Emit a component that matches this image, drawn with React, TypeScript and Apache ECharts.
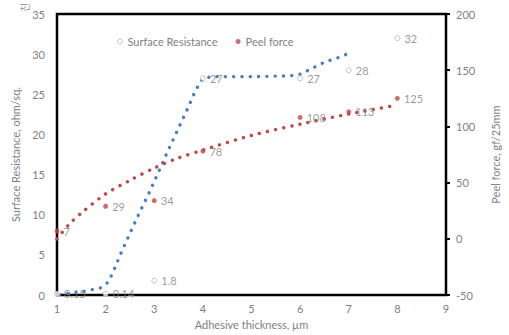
import React, { useEffect, useRef } from "react";
import * as echarts from "echarts";

const xTicks = [1, 2, 3, 4, 5, 6, 7, 8, 9];
const leftTicks = [0, 5, 10, 15, 20, 25, 30, 35];
const rightTicks = [-50, 0, 50, 100, 150, 200];

const srThickness = [1, 2, 3, 4, 6, 7, 8];
const srValues = [0.15, 0.14, 1.8, 27, 27, 28, 32];

const pfThickness = [1, 2, 3, 4, 6, 7, 8];
const pfValues = [7, 29, 34, 78, 108, 113, 125];

// dotted curves
const srCurveX = [1.05, 1.5, 1.9, 2.05, 2.15, 2.3, 2.5, 2.7, 2.9, 3.1, 3.3, 3.5, 3.7, 3.85, 4.0, 4.2, 5.0, 5.8, 6.0, 6.2, 6.5, 6.8, 7.0];
const srCurveY = [0.05, 0.4, 0.9, 1.6, 2.8, 5.0, 7.7, 10.3, 12.8, 15.5, 18.2, 20.8, 23.4, 25.5, 27.0, 27.2, 27.2, 27.3, 27.5, 28.1, 29.0, 29.6, 30.1];

const pfCurveX = [1, 1.25, 1.5, 2, 2.5, 3, 3.5, 4, 5, 6, 7, 8];
const pfCurveY = [0, 13, 23, 40, 52, 63, 72, 79, 92, 102, 111, 119];

const BLUE = "#4A7EC2";
const RED = "#BE4B48";
const GRAY = "#7f7f7f";
const FONT = "Lato";

export default function App() {
  const ref = useRef<HTMLDivElement>(null);
  useEffect(() => {
    const chart = echarts.init(ref.current!, null, { renderer: "svg" });
    const zip = (xs: number[], ys: number[]) => xs.map((x, i) => [x, ys[i]]);
    const dotted = { width: 3.4, type: [0.1, 8.2] as any, cap: "round" as any };
    chart.setOption({
      animation: false,
      textStyle: { fontFamily: FONT },
      grid: { left: 57, right: 49, top: 14, bottom: 39, show: true, borderColor: "#000", borderWidth: 2.5 },
      legend: {
        top: 31,
        left: 112,
        itemWidth: 5,
        itemHeight: 5,
        itemGap: 18,
        textStyle: { color: GRAY, fontSize: 11, fontFamily: FONT },
        data: [
          { name: "Surface Resistance", icon: "circle", itemStyle: { color: "#fff", borderColor: "#a9b4c4", borderWidth: 1 } },
          { name: "Peel force", icon: "circle", itemStyle: { color: RED } },
        ],
      },
      xAxis: {
        type: "value",
        min: xTicks[0],
        max: xTicks[xTicks.length - 1],
        interval: 1,
        name: "Adhesive thickness, µm",
        nameLocation: "middle",
        nameGap: 22,
        nameTextStyle: { color: GRAY, fontSize: 11, fontFamily: FONT },
        axisLine: { show: false },
        axisTick: { show: false },
        splitLine: { show: false },
        axisLabel: { color: GRAY, fontSize: 11, margin: 8 },
      },
      yAxis: [
        {
          type: "value",
          min: leftTicks[0],
          max: leftTicks[leftTicks.length - 1],
          interval: 5,
          name: "Surface Resistance, ohm/sq.",
          nameLocation: "middle",
          nameGap: 29,
          nameTextStyle: { color: GRAY, fontSize: 11, fontFamily: FONT },
          axisLine: { show: false },
          axisTick: { show: false },
          splitLine: { show: false },
          axisLabel: { color: GRAY, fontSize: 11, margin: 12 },
        },
        {
          type: "value",
          position: "right",
          min: rightTicks[0],
          max: rightTicks[rightTicks.length - 1],
          interval: 50,
          name: "Peel force, gf/25mm",
          nameLocation: "middle",
          nameGap: 44,
          nameRotate: 90,
          nameTextStyle: { color: GRAY, fontSize: 11, fontFamily: FONT },
          axisLine: { show: false },
          axisTick: { show: true, length: 4, lineStyle: { color: "#000", width: 2 } },
          splitLine: { show: false },
          axisLabel: { color: GRAY, fontSize: 11, margin: 10 },
        },
      ],
      graphic: [
        {
          type: "text",
          x: 19,
          y: 12,
          rotation: Math.PI / 2,
          style: { text: "친", fill: "#999", fontSize: 10, fontFamily: "Noto Sans CJK KR" },
        },
      ],
      series: [
        {
          name: "srCurve",
          type: "line",
          data: zip(srCurveX, srCurveY),
          symbol: "none",
          lineStyle: { color: BLUE, ...dotted },
          z: 2,
        },
        {
          name: "pfCurve",
          type: "line",
          yAxisIndex: 1,
          data: zip(pfCurveX, pfCurveY),
          symbol: "none",
          smooth: 0.3,
          lineStyle: { color: RED, ...dotted },
          z: 2,
        },
        {
          name: "Surface Resistance",
          type: "scatter",
          data: zip(srThickness, srValues),
          symbol: "circle",
          symbolSize: 5,
          itemStyle: { color: "#fff", borderColor: "#a9b4c4", borderWidth: 1 },
          label: {
            show: true,
            position: "right",
            distance: 4,
            color: GRAY,
            fontSize: 11,
            formatter: (p: any) => String(p.value[1]),
          },
          z: 3,
        },
        {
          name: "Peel force",
          type: "scatter",
          yAxisIndex: 1,
          data: zip(pfThickness, pfValues),
          symbol: "circle",
          symbolSize: 5,
          itemStyle: { color: RED },
          label: {
            show: true,
            position: "right",
            distance: 4,
            color: GRAY,
            fontSize: 11,
            formatter: (p: any) => String(p.value[1]),
          },
          z: 3,
        },
      ],
    });
    return () => chart.dispose();
  }, []);
  return <div ref={ref} style={{ width: 509, height: 335, position: "absolute", left: 0, top: 0 }} />;
}
